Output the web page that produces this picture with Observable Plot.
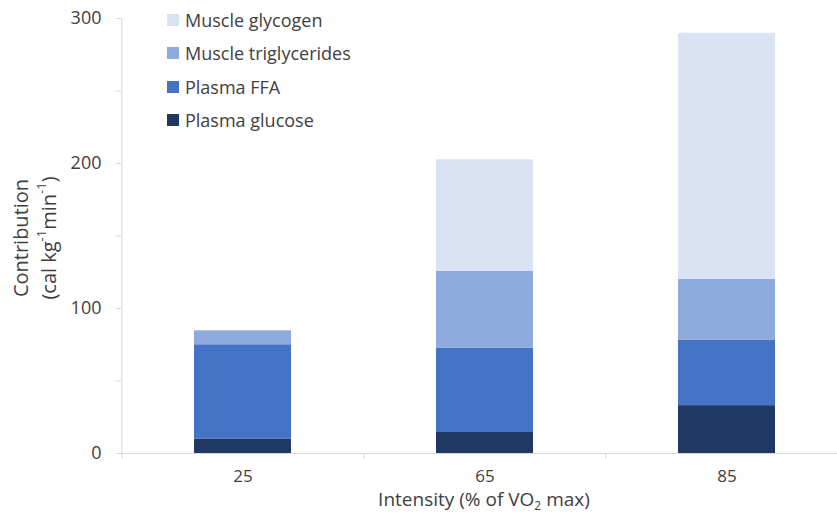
<!DOCTYPE html>
<html>
<head>
<meta charset="utf-8">
<script src="https://cdn.jsdelivr.net/npm/d3@7"></script>
<script src="https://cdn.jsdelivr.net/npm/@observablehq/plot@0.6"></script>
<style>
  html, body { margin: 0; padding: 0; background: #fff; overflow: hidden; }
  #wrap { position: relative; width: 837px; height: 513px; overflow: hidden; font-family: "Open Sans", sans-serif; color: #404040; }
  #chart svg { max-width: none !important; }
  #legend { position: absolute; left: 167px; top: 3px; font-size: 18px; }
  .row { display: flex; align-items: center; height: 33.5px; }
  .sw { width: 12px; height: 12px; margin-right: 6px; }
</style>
</head>
<body>
<div id="wrap"><div id="chart"></div><div id="legend"></div></div>
<script>
const intensities = ["25", "65", "85"];
const seriesNames = ["Plasma glucose", "Plasma FFA", "Muscle triglycerides", "Muscle glycogen"];
const seriesColors = ["#203864", "#4472C4", "#8FAADC", "#DAE3F3"];
const plasmaGlucose = [10, 14.5, 33];
const plasmaFFA = [65, 58, 45];
const muscleTriglycerides = [9.6, 53.2, 42];
const muscleGlycogen = [0, 76.9, 169.8];
const yTicks = [0, 50, 100, 150, 200, 250, 300];

const seriesValues = [plasmaGlucose, plasmaFFA, muscleTriglycerides, muscleGlycogen];
const data = seriesNames.flatMap((s, i) =>
  intensities.map((x, j) => ({intensity: x, series: s, value: seriesValues[i][j]})));

const W = 848, ML = 121, MR = 0, MT = 18, MB = 60, H = 513;
const padIn = 0.6, padOut = 0.3;
const step = (W - ML - MR) / (intensities.length - padIn + 2 * padOut);
const grey = "#d9d9d9";

const plot = Plot.plot({
  width: W, height: H,
  marginLeft: ML, marginRight: MR, marginTop: MT, marginBottom: MB,
  style: {fontFamily: "Open Sans, sans-serif", fontSize: "18px", color: "#404040", background: "#fff", overflow: "visible", maxWidth: "none"},
  x: {type: "band", domain: intensities, paddingInner: padIn, paddingOuter: padOut, label: null},
  y: {domain: [0, 300], label: null},
  color: {domain: seriesNames, range: seriesColors},
  marks: [
    Plot.barY(data, Plot.stackY({x: "intensity", y: "value", fill: "series", order: seriesNames})),
    Plot.ruleY([0], {stroke: grey}),
    Plot.ruleX([intensities[0]], {x: d => d, dx: -step / 2, y1: -4, y2: 300, stroke: grey}),
    Plot.ruleX(intensities.slice(1), {x: d => d, dx: -step / 2, y1: -4, y2: 0, stroke: grey}),
    Plot.axisY({ticks: yTicks, tickSize: 5, tickPadding: 15, stroke: grey, fill: "#404040", fontSize: 18,
      tickFormat: d => d % 100 === 0 ? String(d) : "", label: null}),
    Plot.axisX({tickSize: 0, tickPadding: 16, fill: "#404040", fontSize: 17, label: null})
  ]
});
document.getElementById("chart").appendChild(plot);

const svg = d3.select(plot);
// Y axis title (two lines, rotated)
const yt = svg.append("g").attr("fill", "#404040").attr("font-size", 20).attr("text-anchor", "middle");
yt.append("text").attr("transform", "translate(20,238) rotate(-90)").attr("dominant-baseline", "central").text("Contribution");
const t2 = yt.append("text").attr("transform", "translate(48,238) rotate(-90)").attr("dominant-baseline", "central");
t2.append("tspan").text("(cal kg");
t2.append("tspan").attr("font-size", 13).attr("dy", -7).text("-1");
t2.append("tspan").attr("dy", 7).text("min");
t2.append("tspan").attr("font-size", 13).attr("dy", -7).text("-1");
t2.append("tspan").attr("dy", 7).text(")");
// X axis title
const xt = svg.append("text").attr("fill", "#404040").attr("font-size", 19).attr("text-anchor", "middle")
  .attr("x", 484).attr("y", 505.5);
xt.append("tspan").text("Intensity (% of VO");
xt.append("tspan").attr("font-size", 12).attr("dy", 4).text("2");
xt.append("tspan").attr("dy", -4).text(" max)");

// Legend (top to bottom: reverse stack order)
const legend = d3.select("#legend");
[...seriesNames].reverse().forEach(name => {
  const row = legend.append("div").attr("class", "row");
  row.append("div").attr("class", "sw").style("background", seriesColors[seriesNames.indexOf(name)]);
  row.append("span").text(name);
});
</script>
</body>
</html>
